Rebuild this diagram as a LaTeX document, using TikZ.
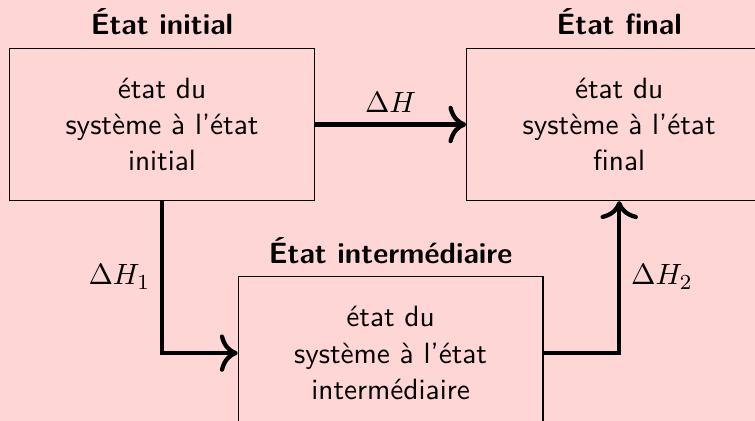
\documentclass[tikz,border=0pt,11pt]{standalone}
\usetikzlibrary{positioning,arrows.meta}
\begin{document}
\begin{tikzpicture}[
    etat/.style={draw, minimum width=4cm, minimum height=2cm, align=center, font=\sffamily},
    titre/.style={font=\sffamily\bfseries},
    fleche/.style={-{To[scale=1.3]}, line width=1.6pt}
  ]

      \fill[red!16] (-0.126,-3.891) rectangle (9.782,1.634); % fond
      \useasboundingbox (-0.126,-3.891) rectangle (9.782,1.634);

      \node[etat] (init) at (2,0) {état du\\système à l'état\\initial};
      \node[etat] (final) at (8,0) {état du\\système à l'état\\final};
      \node[etat] (inter) at (5,-3) {état du\\système à l'état\\intermédiaire};

      \node[titre, above=1pt of init] (tinit) {État initial};
      \node[titre, above=1pt of final] (tfinal) {État final};
      \node[titre, above=1pt of inter] (tinter) {État intermédiaire};

      \draw[fleche] (init) -- (final) node[midway, above] {$\Delta H$};
      \draw[fleche] (init.south) |- (inter.west) node[pos=0.25, left] {$\Delta H_1$};
      \draw[fleche] (inter.east) -| (final.south) node[pos=0.75, right] {$\Delta H_2$};

\end{tikzpicture}
\end{document}
